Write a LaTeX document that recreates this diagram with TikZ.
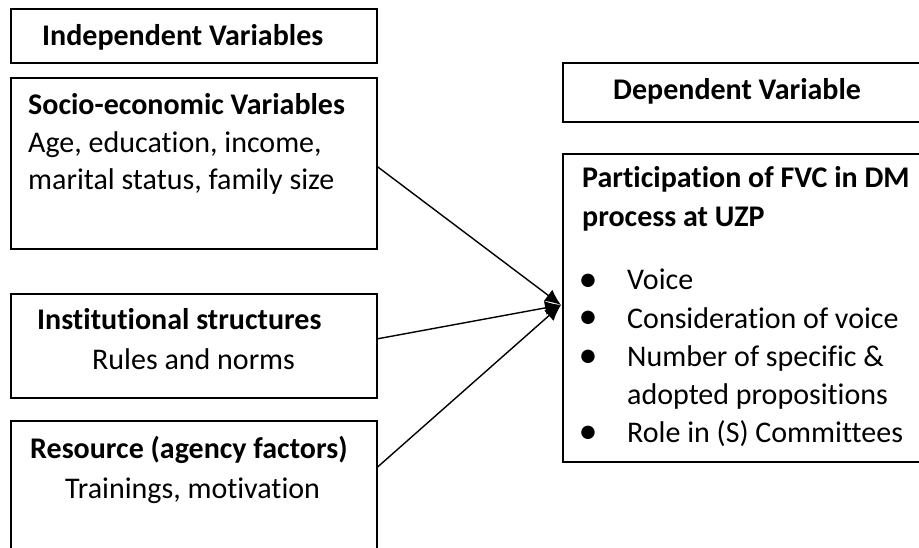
\documentclass[tikz,border=0pt]{standalone}
\usepackage{fontspec}
\setmainfont[Ligatures=NoCommon]{Carlito}
\usetikzlibrary{arrows.meta}
\tikzset{
  varbox/.style={draw,line width=1.6pt,inner sep=0pt,anchor=north west,minimum width=366pt},
  outbox/.style={varbox,minimum width=380pt},
  txt/.style={anchor=base west,inner sep=0pt,font=\fontsize{30}{34}\selectfont},
  head/.style={txt,font=\fontsize{30}{34}\selectfont\bfseries},
  dotmark/.style={anchor=base,inner sep=0pt,font=\fontsize{38}{38}\selectfont},
  link/.style={line width=1.4pt,-{Latex[length=16pt,width=14pt]}}
}
\begin{document}
\begin{tikzpicture}[x=1pt,y=-1pt]
\useasboundingbox (0,0) rectangle (919,548);
% boxes on the left
\node [varbox,minimum height=54pt] (indep) at (10,8) {};
\node [varbox,minimum height=171pt] (socio) at (10,77) {};
\node [varbox,minimum height=104pt] (inst) at (10,293) {};
\node [varbox,minimum height=150pt] (res) at (10,420) {};
% boxes on the right
\node [outbox,minimum height=59pt] (dep) at (562,62) {};
\node [outbox,minimum height=308pt] (part) at (562,153) {};
% texts
\node [head] (indeplbl) at (42,46) {Independent Variables};
\node [head] (sociolbl) at (28,115) {Socio-economic Variables};
\node [txt] (socioa) at (28,153) {Age, education, income,};
\node [txt] (sociob) at (28,190) {marital status, family size};
\node [head] (instlbl) at (37,330) {Institutional structures};
\node [txt] (insta) at (92,370) {Rules and norms};
\node [head] (reslbl) at (30,458) {Resource (agency factors)};
\node [txt] (resa) at (65,498) {Trainings, motivation};
\node [head] (deplbl) at (613,100) {Dependent Variable};
\node [head] (partlbl) at (582,188) {Participation of FVC in DM};
\node [head] (partlblb) at (582,227) {process at UZP};
\foreach \y/\name in {291/b1,329/b2,367/b3,443/b4}
  \node [dotmark] (\name) at (588,\y) {\textbullet};
\node [txt] (itema) at (627,290) {Voice};
\node [txt] (itemb) at (627,328) {Consideration of voice};
\node [txt] (itemc) at (627,366) {Number of specific \&};
\node [txt] (itemd) at (627,404) {adopted propositions};
\node [txt] (iteme) at (627,442) {Role in (S) Committees};
% connectors
\coordinate (hub) at (561,305);
\draw [link] ([yshift=-3.5pt]socio.east) -- (hub);
\draw [link] ([yshift=7pt]inst.east) -- (hub);
\draw [link] ([yshift=-47pt]res.north east) -- (hub);
\end{tikzpicture}
\end{document}
